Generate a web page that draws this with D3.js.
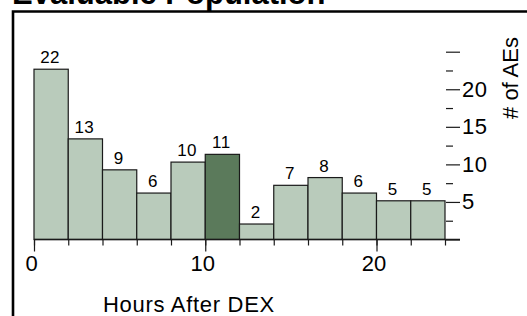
<!DOCTYPE html>
<html>
<head>
<meta charset="utf-8">
<script src="https://cdn.jsdelivr.net/npm/d3@7"></script>
<style>
  body { margin: 0; background: #fff; }
  svg { display: block; font-family: "Liberation Sans", Arial, sans-serif; }
</style>
</head>
<body>
<div id="chart"></div>
<script>
// bins of 2 hours after DEX, number of AEs in each
const binStarts = [0, 2, 4, 6, 8, 10, 12, 14, 16, 18, 20, 22];
const counts = [22, 13, 9, 6, 10, 11, 2, 7, 8, 6, 5, 5];
const highlighted = [10]; // the darker bin
const xLabelTicks = [0, 10, 20];
const yMajorTicks = [0, 5, 10, 15, 20, 25];
const yMinorTicks = [2.5, 7.5, 12.5, 17.5, 22.5];
const yLabelled = [5, 10, 15, 20];

const width = 527, height = 316;
const binWidth = 2;
const lightFill = "#b9cbbb", darkFill = "#5b7a5b";

const svg = d3.select("#chart").append("svg")
  .attr("width", width)
  .attr("height", height);

// title, cut off at the top like the source
svg.append("text")
  .attr("x", 12)
  .attr("y", 4)
  .style("font-size", "31px")
  .style("font-weight", "bold")
  .text("Evaluable Population");

// frame
svg.append("path")
  .attr("d", `M13,${height} V11.5 H${width}`)
  .attr("fill", "none")
  .attr("stroke", "#000")
  .attr("stroke-width", 2.6);

const x = d3.scaleLinear().domain([0, 24]).range([34, 445]);
// bars are drawn a touch taller than the axis marks in the original
const yBar = d3.scaleLinear().domain([0, 25]).range([239.5, 46]);
const yAxis = d3.scaleLinear().domain([0, 25]).range([239.5, 51.7]);

const data = binStarts.map((b, i) => ({ start: b, count: counts[i] }));

// bars
svg.append("g")
  .selectAll("rect")
  .data(data)
  .join("rect")
  .attr("x", d => x(d.start))
  .attr("y", d => yBar(d.count))
  .attr("width", d => x(d.start + binWidth) - x(d.start))
  .attr("height", d => yBar(0) - yBar(d.count))
  .attr("fill", d => highlighted.includes(d.start) ? darkFill : lightFill)
  .attr("stroke", "#1a1a1a")
  .attr("stroke-width", 1.2);

// bar value labels
svg.append("g")
  .selectAll("text")
  .data(data)
  .join("text")
  .attr("x", d => x(d.start + binWidth / 2) - 1)
  .attr("y", d => yBar(d.count) - 6)
  .attr("text-anchor", "middle")
  .style("font-size", "17px")
  .style("letter-spacing", "0.5px")
  .attr("fill", "#000")
  .text(d => d.count);

// x axis: small ticks at the bin edges, long labelled ticks at 0/10/20
const edges = binStarts.concat([24]);
const xMinor = svg.append("g")
  .attr("transform", `translate(0,${yAxis(0)})`)
  .call(d3.axisBottom(x).tickValues(edges).tickSize(6).tickFormat(""));
xMinor.select(".domain").remove();

const xMajor = svg.append("g")
  .attr("transform", `translate(0,${yAxis(0)})`)
  .call(d3.axisBottom(x).tickValues(xLabelTicks).tickSize(12).tickPadding(4));
xMajor.select(".domain").remove();
xMajor.selectAll("text")
  .attr("dx", -3)
  .style("font-size", "22px")
  .attr("fill", "#000");

svg.selectAll(".tick line").attr("stroke", "#1a1a1a").attr("stroke-width", 1.2);

// right-hand count axis, ticks start at the last bar edge
const axisX = x(24) + 1;
const yMaj = svg.append("g")
  .attr("transform", `translate(${axisX},0)`)
  .call(d3.axisRight(yAxis).tickValues(yMajorTicks).tickSize(14).tickPadding(2)
    .tickFormat(d => yLabelled.includes(d) ? d : ""));
yMaj.select(".domain").remove();
yMaj.selectAll("text")
  .style("font-size", "22px")
  .style("letter-spacing", "0.5px")
  .attr("fill", "#000");

const yMin = svg.append("g")
  .attr("transform", `translate(${axisX},0)`)
  .call(d3.axisRight(yAxis).tickValues(yMinorTicks).tickSize(7).tickFormat(""));
yMin.select(".domain").remove();

svg.selectAll(".tick line").attr("stroke", "#1a1a1a").attr("stroke-width", 1.2);

// baseline
svg.append("line")
  .attr("x1", x(0))
  .attr("x2", axisX + 14)
  .attr("y1", yAxis(0))
  .attr("y2", yAxis(0))
  .attr("stroke", "#1a1a1a")
  .attr("stroke-width", 1.3);

// axis titles
svg.append("text")
  .attr("x", 103)
  .attr("y", 312)
  .style("font-size", "22px")
  .style("letter-spacing", "0.7px")
  .attr("fill", "#000")
  .text("Hours After DEX");

svg.append("text")
  .attr("transform", "translate(518,78) rotate(-90)")
  .attr("text-anchor", "middle")
  .style("font-size", "22px")
  .attr("fill", "#000")
  .text("# of AEs");
</script>
</body>
</html>
